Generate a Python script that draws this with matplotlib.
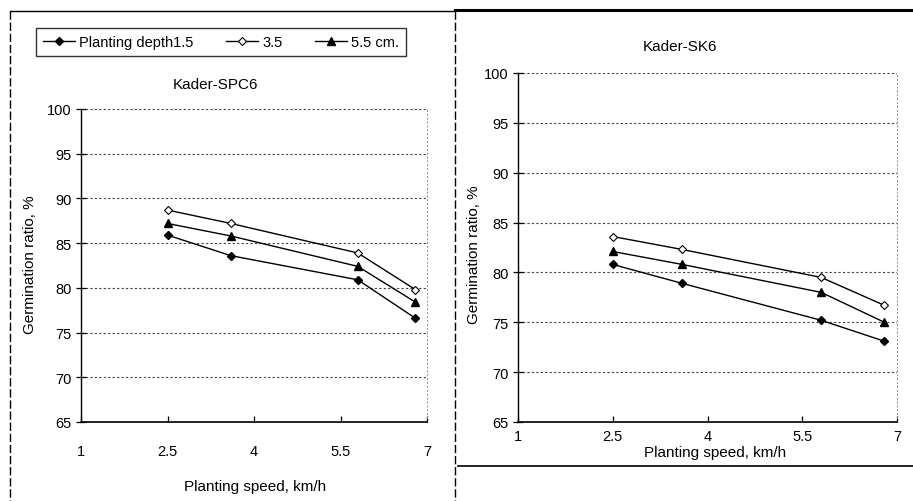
import matplotlib
matplotlib.use("Agg")
import matplotlib.pyplot as plt
from matplotlib.lines import Line2D

plt.rcParams['font.family'] = ['Liberation Sans', 'DejaVu Sans']

speed = [2.5, 3.6, 5.8, 6.8]
xticks = [1, 2.5, 4, 5.5, 7]
xtick_labels = ["1", "2.5", "4", "5.5", "7"]
yticks = [65, 70, 75, 80, 85, 90, 95, 100]

spc6_d15 = [85.9, 83.6, 80.9, 76.6]
spc6_d35 = [88.7, 87.2, 83.9, 79.8]
spc6_d55 = [87.2, 85.8, 82.4, 78.4]

sk6_d15 = [80.8, 78.9, 75.2, 73.1]
sk6_d35 = [83.6, 82.3, 79.5, 76.7]
sk6_d55 = [82.1, 80.8, 78.0, 75.0]

labels = ["Planting depth1.5", "3.5", "5.5 cm."]

W, H = 913, 502
fig = plt.figure(figsize=(W / 100, H / 100), dpi=100)

def fx(px):
    return px / W

def fy(py):
    return 1 - py / H

styles = [
    dict(marker='D', markersize=4, markerfacecolor='black', markeredgecolor='black'),
    dict(marker='D', markersize=4.5, markerfacecolor='white', markeredgecolor='black', markeredgewidth=0.8),
    dict(marker='^', markersize=5.5, markerfacecolor='black', markeredgecolor='black'),
]

def make_panel(rect, series, ticklabel_pad):
    ax = fig.add_axes(rect)
    for s, st, lab in zip(series, styles, labels):
        ax.plot(speed, s, color='black', linewidth=1.0, label=lab, **st)
    ax.set_xlim(1, 7)
    ax.set_ylim(65, 100)
    ax.set_xticks(xticks)
    ax.set_xticklabels(xtick_labels)
    ax.set_yticks(yticks)
    ax.yaxis.grid(True, linestyle=(0, (2, 2)), color='#444444', linewidth=0.8)
    ax.set_axisbelow(True)
    ax.spines['top'].set_visible(False)
    ax.spines['right'].set_linestyle((0, (1, 3)))
    ax.spines['right'].set_color('#888888')
    ax.spines['right'].set_linewidth(0.7)
    ax.spines['left'].set_linewidth(1.0)
    ax.spines['bottom'].set_linewidth(1.2)
    ax.tick_params(axis='y', direction='inout', length=7, width=0.9, labelsize=10.5, pad=3)
    ax.tick_params(axis='x', direction='in', length=4, width=0.9, labelsize=10.5, pad=ticklabel_pad)
    return ax

axL = make_panel([fx(81), fy(423), fx(427) - fx(81), fy(110) - fy(423)],
                 [spc6_d15, spc6_d35, spc6_d55], 16)
axR = make_panel([fx(518), fy(423), fx(897) - fx(518), fy(74) - fy(423)],
                 [sk6_d15, sk6_d35, sk6_d55], 5)

fig.text(fx(215), fy(85), "Kader-SPC6", ha='center', va='center', fontsize=11)
fig.text(fx(680), fy(47), "Kader-SK6", ha='center', va='center', fontsize=11)

fig.text(fx(30), fy(265), "Germination ratio, %", rotation=90, ha='center', va='center', fontsize=11)
fig.text(fx(474), fy(255), "Germination ratio, %", rotation=90, ha='center', va='center', fontsize=11)
fig.text(fx(255), fy(487), "Planting speed, km/h", ha='center', va='center', fontsize=11)
fig.text(fx(715), fy(453), "Planting speed, km/h", ha='center', va='center', fontsize=11)

handles = [Line2D([0], [0], color='black', linewidth=1.0, **st) for st in styles]
leg = fig.legend(handles, labels, loc='center', bbox_to_anchor=(fx(221), fy(43)),
                 ncol=3, frameon=True, fancybox=False, fontsize=10.5,
                 handlelength=2.2, handletextpad=0.3, columnspacing=2.2,
                 borderpad=0.5)
leg.get_frame().set_edgecolor('black')
leg.get_frame().set_linewidth(1.0)

# panel frames
def fline(x0, y0, x1, y1, lw=1.0, ls='-'):
    fig.add_artist(Line2D([fx(x0), fx(x1)], [fy(y0), fy(y1)], color='black',
                          linewidth=lw, linestyle=ls, transform=fig.transFigure))

fline(10, 12, 455, 12, lw=1.0)
fline(10, 12, 10, 502, lw=1.0, ls=(0, (6, 2)))
fline(455, 12, 455, 502, lw=1.0, ls=(0, (6, 2)))
fline(455, 11, 913, 11, lw=2.2)
fline(458, 467, 913, 467, lw=1.2)

fig.savefig("out.png", dpi=100)
